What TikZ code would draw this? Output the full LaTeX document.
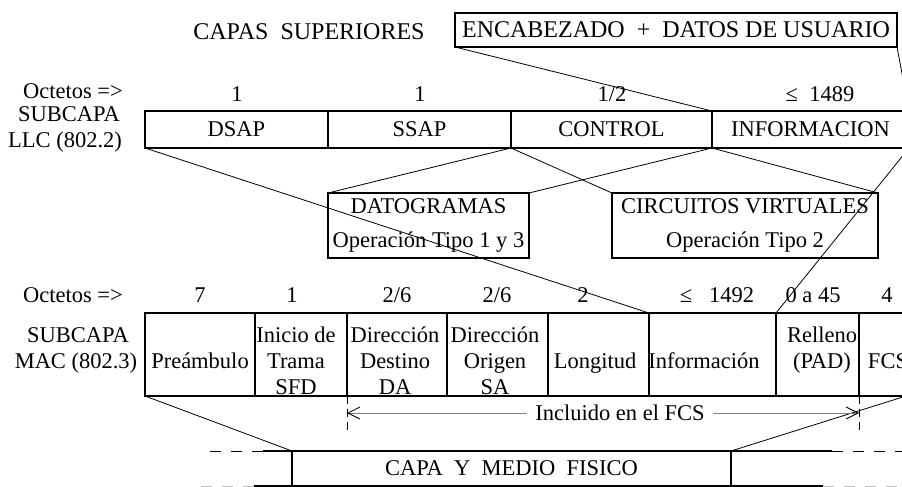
\documentclass[tikz,border=0pt]{standalone}
\usepackage{fontspec}
\setmainfont{Liberation Serif}
\usetikzlibrary{arrows.meta}

\begin{document}
\begin{tikzpicture}[x=1pt, y=-1pt,
		every node/.style={font=\fontsize{22.5}{26}\selectfont, inner sep=0pt},
		field/.style={draw, line width=1.7pt, outer sep=0pt, anchor=north west},
		txt/.style={anchor=base, align=center},
		big/.style={font=\fontsize{24}{28}\selectfont},
		fan/.style={line width=0.8pt},
		frame/.style={line width=1.7pt},
		fcsdash/.style={line width=0.8pt, dash pattern=on 8pt off 5pt},
		farline/.style={line width=1pt, dash pattern=on 11pt off 10pt},
		barb/.tip={Straight Barb[length=12pt, width=12pt, color=black]}]
		\useasboundingbox (0,0) rectangle (902,487);
		\clip (0,0) rectangle (902,487);
		\node[txt, big] (capsup) at (309,40) {CAPAS\ \ SUPERIORES};
		\node[field, big, minimum width=442, minimum height=34] (enc) at (455,13) {ENCABEZADO\ \ +\ \ DATOS DE USUARIO};
		\node[txt] (oct1) at (73,99) {Octetos =>};
		\node[txt] (llc1) at (69,121) {SUBCAPA};
		\node[txt] (llc2) at (65,147) {LLC (802.2)};
		\foreach \x/\t [count=\i] in {237/1, 420/1, 612/{1/2}, 820/{≤\ \ 1489}}
			\node[txt] (oa-\i) at (\x, 101) {\t};
		\node[field, minimum width=183, minimum height=37] (dsap) at (145,111) {DSAP};
		\node[field, minimum width=183, minimum height=37] (ssap) at (dsap.north east) {SSAP};
		\node[field, minimum width=201, minimum height=37] (control) at (ssap.north east) {CONTROL};
		\node[field, minimum width=197, minimum height=37] (info) at (control.north east) {INFORMACION};
		\node[field, minimum width=201, minimum height=65, align=center] (dgram) at (328,193) {DATOGRAMAS\\[8pt]Operación Tipo 1 y 3};
		\node[field, minimum width=266, minimum height=65, align=center] (cvirt) at (612,193) {CIRCUITOS VIRTUALES\\[8pt]Operación Tipo 2};
		\node[txt] (oct2) at (73,302) {Octetos =>};
		\node[txt] (mac1) at (78,342) {SUBCAPA};
		\node[txt] (mac2) at (76,368) {MAC (802.3)};
		\foreach \x/\t [count=\i] in {200/7, 292/1, 397/{2/6}, 497/{2/6}, 583/2, 717/{≤\ \ \ 1492}, 813/{0 a 45}, 887/4}
			\node[txt] (ob-\i) at (\x, 302) {\t};
		\node[field, minimum width=110, minimum height=83] (pre) at (145,313) {};
		\node[field, minimum width=92, minimum height=83] (sfd) at (pre.north east) {};
		\node[field, minimum width=100, minimum height=83] (da) at (sfd.north east) {};
		\node[field, minimum width=101, minimum height=83] (sa) at (da.north east) {};
		\node[field, minimum width=101, minimum height=83] (len) at (sa.north east) {};
		\node[field, minimum width=127, minimum height=83] (data) at (len.north east) {};
		\node[field, minimum width=83, minimum height=83] (pad) at (data.north east) {};
		\node[field, minimum width=47, minimum height=83] (fcs) at (pad.north east) {};
		\node[txt] (tpre) at (200,368) {Preámbulo};
		\node[txt] (tsfd) at (296,394) {Inicio de\\Trama\\SFD};
		\node[txt] (tda) at (395,394) {Dirección\\Destino\\DA};
		\node[txt] (tsa) at (495,394) {Dirección\\Origen\\SA};
		\node[txt] (tlen) at (595,368) {Longitud};
		\node[txt] (tdata) at (704,368) {Información};
		\node[txt] (tpad) at (822,368) {Relleno\\(PAD)};
		\node[txt] (tfcs) at (888,368) {FCS};
		\node[field, minimum width=439, minimum height=35] (fis) at (292,451) {CAPA\ \ Y\ \ MEDIO\ \ FISICO};
		\draw[fan] (enc.south west) -- (info.north west);
		\draw[fan] (enc.south east) -- (info.north east);
		\draw[fan] (dsap.south west) -- (data.north west);
		\draw[fan] (info.south east) -- (data.north east);
		\draw[fan] (control.south west) -- (dgram.north west);
		\draw[fan] (control.south east) -- (dgram.north east);
		\draw[fan] (control.south west) -- (cvirt.north west);
		\draw[fan] (control.south east) -- (cvirt.north east);
		\draw[fan] (pre.south west) -- (fis.north west);
		\draw[fan] (fcs.south east) -- (fis.north east);
		\draw[fcsdash] (da.south west) -- ++(0,37);
		\draw[fcsdash] (fcs.south west) -- ++(0,37);
		\coordinate (incl-a) at ([yshift=-17pt]da.south west);
		\coordinate (incl-b) at ([yshift=-17pt]fcs.south west);
		\draw[gray, line width=0.8pt, barb-barb] (incl-a) -- (incl-b);
		\node[txt, fill=white, inner xsep=8pt] (incl) at (620,420) {Incluido en el FCS};
		\draw[frame] (fis.north west) -- ++(-29,0);
		\draw[farline] ([xshift=-29pt]fis.north west) -- ++(-62,0);
		\draw[frame] (fis.north east) -- ++(101,0);
		\draw[farline] ([xshift=101pt]fis.north east) -- ++(80,0);
		\draw[frame] (fis.south west) -- ++(-38,0);
		\draw[farline, black!25] ([xshift=-38pt]fis.south west) -- ++(-53,0);
		\draw[frame] (fis.south east) -- ++(92,0);
		\draw[farline, black!25] ([xshift=92pt]fis.south east) -- ++(80,0);
\end{tikzpicture}
\end{document}
